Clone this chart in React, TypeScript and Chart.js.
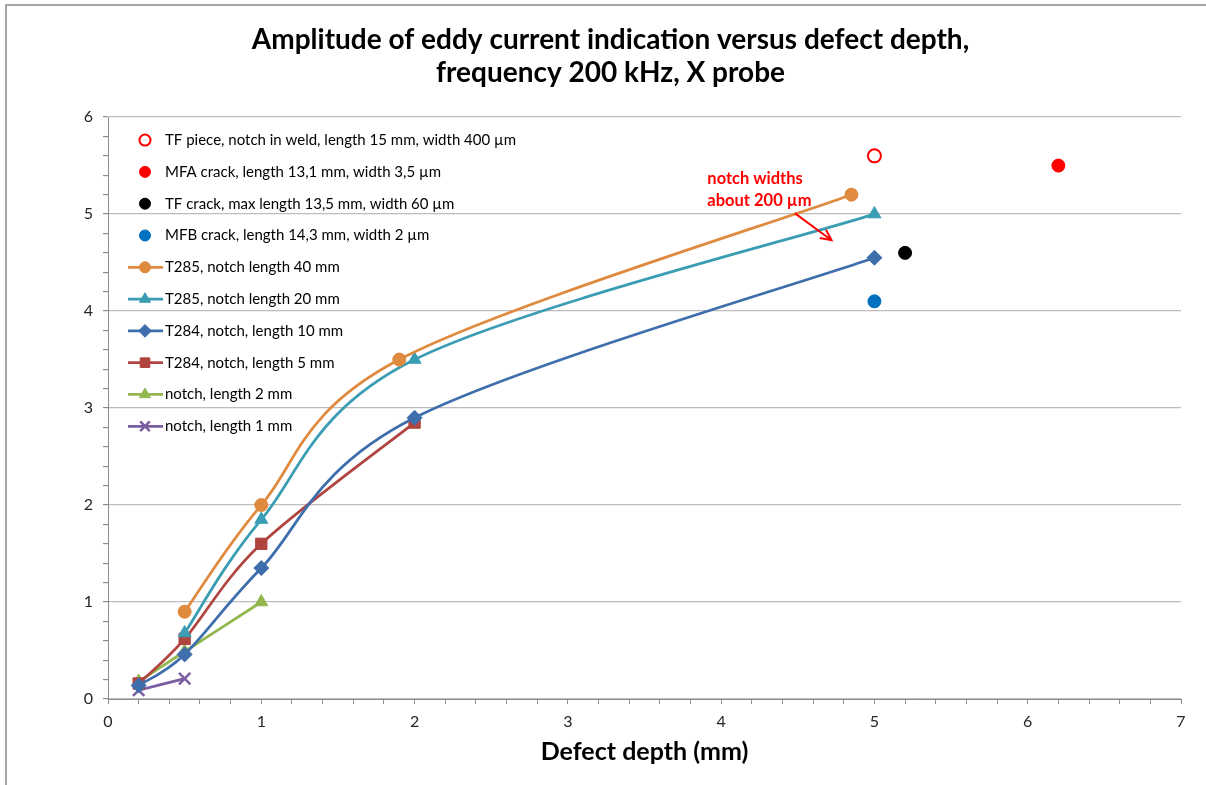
import React, { useEffect, useRef } from 'react';
import { Chart, registerables } from 'chart.js';

Chart.register(...registerables);

// ---------- text ----------
const TITLE_LINES = [
  'Amplitude of eddy current indication versus defect depth,',
  'frequency 200 kHz, X probe',
];
const X_TITLE = 'Defect depth (mm)';
const NOTE_LINES = ['notch widths', 'about 200 µm'];

// ---------- axes ----------
const X_MIN = 0;
const X_MAX = 7;
const Y_MIN = 0;
const Y_MAX = 6;
const MINOR_STEP = 0.2;

// ---------- series (x = defect depth mm, y = amplitude) ----------
const tfPieceX = [5.0];
const tfPieceY = [5.6];
const mfaCrackX = [6.2];
const mfaCrackY = [5.5];
const tfCrackX = [5.2];
const tfCrackY = [4.6];
const mfbCrackX = [5.0];
const mfbCrackY = [4.1];

const t285L40X = [0.5, 1.0, 1.9, 4.85];
const t285L40Y = [0.9, 2.0, 3.5, 5.2];
const t285L20X = [0.5, 1.0, 2.0, 5.0];
const t285L20Y = [0.68, 1.85, 3.5, 5.0];
const t284L10X = [0.2, 0.5, 1.0, 2.0, 5.0];
const t284L10Y = [0.14, 0.46, 1.35, 2.9, 4.55];
const t284L5X = [0.2, 0.5, 1.0, 2.0];
const t284L5Y = [0.16, 0.62, 1.6, 2.85];
const notch2X = [0.2, 0.5, 1.0];
const notch2Y = [0.18, 0.49, 1.0];
const notch1X = [0.2, 0.5];
const notch1Y = [0.09, 0.21];

// annotation anchor points (data units)
const NOTE_TEXT_X = [3.91, 3.91];
const NOTE_TEXT_Y = [5.37, 5.14];
const ARROW_X = [4.48, 4.72];
const ARROW_Y = [5.01, 4.73];

const toPts = (xs: number[], ys: number[]) => xs.map((x, i) => ({ x, y: ys[i] }));
const isMajor = (v: number) => Math.abs(v - Math.round(v)) < 1e-6;

const FONT = 'Lato, "Open Sans", "DejaVu Sans", sans-serif';

function drawMarker(
  ctx: CanvasRenderingContext2D,
  style: string,
  x: number,
  y: number,
  r: number,
  fill: string,
  stroke: string,
  lw: number
) {
  ctx.save();
  ctx.beginPath();
  ctx.fillStyle = fill;
  ctx.strokeStyle = stroke;
  ctx.lineWidth = lw;
  if (style === 'circle') {
    ctx.arc(x, y, r, 0, Math.PI * 2);
    ctx.fill();
    ctx.stroke();
  } else if (style === 'triangle') {
    ctx.moveTo(x, y - r);
    ctx.lineTo(x + r * 0.866, y + r * 0.5);
    ctx.lineTo(x - r * 0.866, y + r * 0.5);
    ctx.closePath();
    ctx.fill();
    ctx.stroke();
  } else if (style === 'rectRot') {
    ctx.moveTo(x, y - r);
    ctx.lineTo(x + r, y);
    ctx.lineTo(x, y + r);
    ctx.lineTo(x - r, y);
    ctx.closePath();
    ctx.fill();
    ctx.stroke();
  } else if (style === 'rect') {
    const s = r * Math.SQRT1_2;
    ctx.rect(x - s, y - s, 2 * s, 2 * s);
    ctx.fill();
    ctx.stroke();
  } else if (style === 'crossRot') {
    const s = r * Math.SQRT1_2;
    ctx.moveTo(x - s, y - s);
    ctx.lineTo(x + s, y + s);
    ctx.moveTo(x + s, y - s);
    ctx.lineTo(x - s, y + s);
    ctx.stroke();
  }
  ctx.restore();
}

// Excel-style smoothing: uniform Catmull-Rom control points (1/6 of neighbour span)
const excelSmoothPlugin = {
  id: 'excelSmooth',
  beforeDatasetDraw(chart: any, args: any) {
    const meta = args.meta;
    const line = meta.dataset;
    const pts = meta.data;
    if (!line || !pts || pts.length < 2) return;
    if (!line.options || !line.options.tension) return;
    line.updateControlPoints(chart.chartArea, 'x');
    const n = pts.length;
    for (let i = 0; i < n; i++) {
      const p = pts[i];
      const prev = pts[Math.max(0, i - 1)];
      const next = pts[Math.min(n - 1, i + 1)];
      const dx = (next.x - prev.x) / 6;
      const dy = (next.y - prev.y) / 6;
      p.cp1x = p.x - dx;
      p.cp1y = p.y - dy;
      p.cp2x = p.x + dx;
      p.cp2y = p.y + dy;
    }
  },
};

const framePlugin = {
  id: 'frame',
  beforeDraw(chart: any) {
    const { ctx, width, height } = chart;
    ctx.save();
    ctx.fillStyle = '#ffffff';
    ctx.fillRect(0, 0, width, height);
    ctx.strokeStyle = '#a6a6a6';
    ctx.lineWidth = 2;
    ctx.beginPath();
    ctx.moveTo(6, height);
    ctx.lineTo(6, 5);
    ctx.lineTo(width, 5);
    ctx.stroke();
    ctx.restore();
  },
};

const legendPlugin = {
  id: 'insideLegend',
  afterDraw(chart: any) {
    const { ctx, chartArea } = chart;
    const lineStart = chartArea.left + 20;
    const lineEnd = lineStart + 35;
    const mx = lineStart + 17;
    let y = chartArea.top + 23;
    const step = 31.8;
    ctx.save();
    chart.data.datasets.forEach((ds: any) => {
      if (ds.showLine !== false) {
        ctx.beginPath();
        ctx.strokeStyle = ds.borderColor;
        ctx.lineWidth = ds.borderWidth;
        ctx.moveTo(lineStart, y);
        ctx.lineTo(lineEnd, y);
        ctx.stroke();
      }
      drawMarker(
        ctx,
        ds.pointStyle,
        mx,
        y,
        ds.pointRadius * 0.85,
        ds.pointBackgroundColor,
        ds.pointBorderColor,
        ds.pointBorderWidth
      );
      ctx.fillStyle = '#000000';
      ctx.font = `15px ${FONT}`;
      ctx.textAlign = 'left';
      ctx.textBaseline = 'middle';
      ctx.fillText(ds.label, lineEnd + 2, y);
      y += step;
    });
    ctx.restore();
  },
};

const notePlugin = {
  id: 'note',
  afterDraw(chart: any) {
    const { ctx, scales } = chart;
    const xs = scales.x;
    const ys = scales.y;
    ctx.save();
    ctx.fillStyle = '#ff0000';
    ctx.font = `bold 16.5px ${FONT}`;
    ctx.textAlign = 'left';
    ctx.textBaseline = 'middle';
    NOTE_LINES.forEach((t, i) => {
      ctx.fillText(t, xs.getPixelForValue(NOTE_TEXT_X[i]), ys.getPixelForValue(NOTE_TEXT_Y[i]));
    });
    const x1 = xs.getPixelForValue(ARROW_X[0]);
    const y1 = ys.getPixelForValue(ARROW_Y[0]);
    const x2 = xs.getPixelForValue(ARROW_X[1]);
    const y2 = ys.getPixelForValue(ARROW_Y[1]);
    const ang = Math.atan2(y2 - y1, x2 - x1);
    const head = 12;
    ctx.strokeStyle = '#ff0000';
    ctx.lineWidth = 2;
    ctx.beginPath();
    ctx.moveTo(x1, y1);
    ctx.lineTo(x2, y2);
    ctx.moveTo(x2 - head * Math.cos(ang - 0.45), y2 - head * Math.sin(ang - 0.45));
    ctx.lineTo(x2, y2);
    ctx.lineTo(x2 - head * Math.cos(ang + 0.45), y2 - head * Math.sin(ang + 0.45));
    ctx.stroke();
    ctx.restore();
  },
};

function scatterSet(label: string, xs: number[], ys: number[], fill: string, stroke: string, bw: number) {
  return {
    label,
    data: toPts(xs, ys),
    showLine: false,
    pointStyle: 'circle',
    pointRadius: 6.5,
    pointBackgroundColor: fill,
    pointBorderColor: stroke,
    pointBorderWidth: bw,
    borderColor: stroke,
    backgroundColor: fill,
    borderWidth: 0,
    tension: 0,
  };
}

function lineSet(label: string, xs: number[], ys: number[], color: string, style: string, radius: number) {
  const cross = style === 'crossRot';
  return {
    label,
    data: toPts(xs, ys),
    showLine: true,
    borderColor: color,
    backgroundColor: color,
    borderWidth: 2.75,
    tension: 0.4,
    pointStyle: style,
    pointRadius: radius,
    pointBackgroundColor: color,
    pointBorderColor: color,
    pointBorderWidth: cross ? 2.5 : 1,
  };
}

export default function App() {
  const ref = useRef<HTMLCanvasElement | null>(null);

  useEffect(() => {
    if (!ref.current) return;
    const datasets: any[] = [
      scatterSet('TF piece, notch in weld, length 15 mm, width 400 µm', tfPieceX, tfPieceY, '#ffffff', '#ff0000', 2),
      scatterSet('MFA crack, length 13,1 mm, width 3,5 µm', mfaCrackX, mfaCrackY, '#ff0000', '#ff0000', 1),
      scatterSet('TF crack, max length 13,5 mm, width 60 µm', tfCrackX, tfCrackY, '#000000', '#000000', 1),
      scatterSet('MFB crack, length 14,3 mm, width 2 µm', mfbCrackX, mfbCrackY, '#0070c0', '#0070c0', 1),
      lineSet('T285, notch length 40 mm', t285L40X, t285L40Y, '#df8a3e', 'circle', 6.5),
      lineSet('T285, notch length 20 mm', t285L20X, t285L20Y, '#3b9db3', 'triangle', 7.5),
      lineSet('T284, notch, length 10 mm', t284L10X, t284L10Y, '#3f6eac', 'rectRot', 7.5),
      lineSet('T284, notch, length 5 mm', t284L5X, t284L5Y, '#b0443f', 'rect', 8),
      lineSet('notch, length 2 mm', notch2X, notch2Y, '#93b64f', 'triangle', 7.5),
      lineSet('notch, length 1 mm', notch1X, notch1Y, '#7a5ca1', 'crossRot', 8),
    ];

    const chart = new Chart(ref.current, {
      type: 'line',
      data: { datasets },
      plugins: [framePlugin, excelSmoothPlugin, legendPlugin, notePlugin],
      options: {
        animation: false,
        responsive: false,
        devicePixelRatio: 1,
        layout: { padding: { left: 40, right: 25, top: 0, bottom: 0 } },
        plugins: {
          legend: { display: false },
          tooltip: { enabled: false },
          title: {
            display: true,
            text: TITLE_LINES,
            color: '#000000',
            font: { family: FONT, size: 28, weight: 'bold', lineHeight: 1.18 },
            padding: { top: 23.5, bottom: 27.5 },
          },
        },
        scales: {
          x: {
            type: 'linear',
            min: X_MIN,
            max: X_MAX,
            ticks: {
              stepSize: MINOR_STEP,
              autoSkip: false,
              maxRotation: 0,
              padding: 8,
              color: '#262626',
              font: { family: FONT, size: 16 },
              callback: (v: any) => (isMajor(Number(v)) ? String(Math.round(Number(v))) : ''),
            },
            grid: {
              drawOnChartArea: false,
              tickLength: 5,
              color: '#8c8c8c',
              tickColor: '#8c8c8c',
            },
            border: { color: '#8c8c8c', width: 1 },
            title: {
              display: true,
              text: X_TITLE,
              color: '#000000',
              font: { family: FONT, size: 25, weight: 'bold' },
              padding: { top: 0, bottom: 18 },
            },
            afterFit: (s: any) => {
              s.height = 86;
            },
          },
          y: {
            type: 'linear',
            min: Y_MIN,
            max: Y_MAX,
            ticks: {
              stepSize: MINOR_STEP,
              autoSkip: false,
              padding: 10,
              color: '#262626',
              font: { family: FONT, size: 16 },
              callback: (v: any) => (isMajor(Number(v)) ? String(Math.round(Number(v))) : ''),
            },
            grid: {
              color: (c: any) => (c.tick && isMajor(c.tick.value) ? '#bdbdbd' : 'rgba(0,0,0,0)'),
              tickColor: '#8c8c8c',
              tickLength: 5,
              lineWidth: 1.2,
            },
            border: { color: '#8c8c8c', width: 1 },
            afterFit: (s: any) => {
              s.width = 68;
            },
          },
        },
      } as any,
    });
    return () => chart.destroy();
  }, []);

  return (
    <div style={{ position: 'absolute', left: 0, top: 0, width: 1206, height: 785, background: '#fff' }}>
      <canvas ref={ref} width={1206} height={785} style={{ display: 'block' }} />
    </div>
  );
}
